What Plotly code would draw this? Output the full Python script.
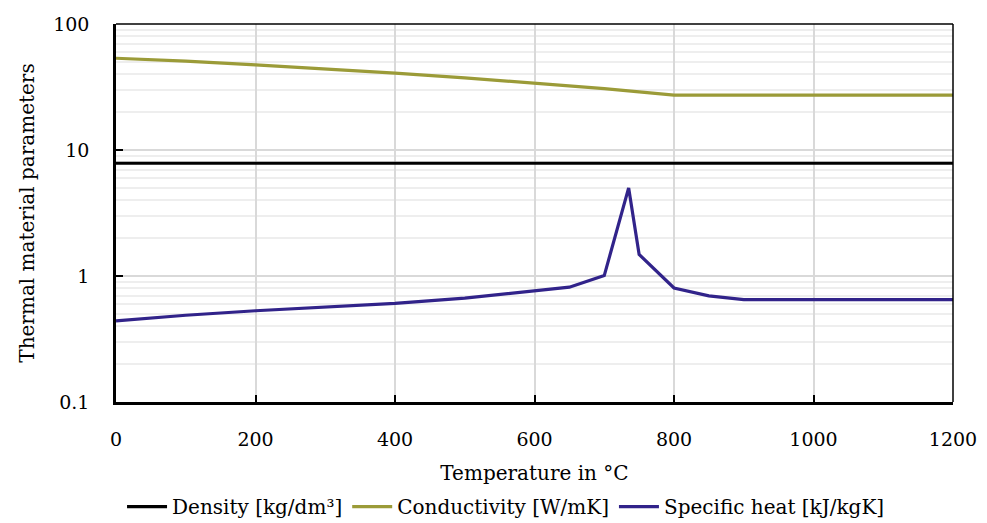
import plotly.graph_objects as go

temps_density = [0, 1200]
density = [7.85, 7.85]

temps_cond = [0, 100, 200, 300, 400, 500, 600, 700, 800, 900, 1000, 1100, 1200]
conductivity = [53.5, 50.7, 47.3, 44.0, 40.7, 37.4, 34.0, 30.7, 27.3, 27.3, 27.3, 27.3, 27.3]

temps_cp = [0, 100, 200, 300, 400, 500, 600, 650, 700, 735, 750, 800, 850, 900, 1000, 1100, 1200]
specific_heat = [0.44, 0.488, 0.530, 0.565, 0.606, 0.667, 0.760, 0.815, 1.008, 5.0, 1.483, 0.803, 0.695, 0.650, 0.650, 0.650, 0.650]

y_tickvals = [0.1, 1, 10, 100]
y_ticktext = ["0.1", "1", "10", "100"]

FONT = "DejaVu Serif, serif"
FS_TICK = 19
FS = 20

fig = go.Figure()
fig.add_trace(go.Scatter(x=temps_density, y=density, mode="lines", name="Density [kg/dm³]",
                         line=dict(color="#000000", width=3.2)))
fig.add_trace(go.Scatter(x=temps_cond, y=conductivity, mode="lines", name="Conductivity [W/mK]",
                         line=dict(color="#9b9b38", width=3.2)))
fig.add_trace(go.Scatter(x=temps_cp, y=specific_heat, mode="lines", name="Specific heat [kJ/kgK]",
                         line=dict(color="#31238a", width=3.2)))

# page body has an 8px default margin, so the figure is sized/placed to compensate
fig.update_layout(
    width=979, height=515,
    margin=dict(l=108, r=34, t=16, b=121, autoexpand=False),
    paper_bgcolor="white", plot_bgcolor="white",
    font=dict(family=FONT, size=FS, color="#000000"),
    showlegend=True,
    legend=dict(orientation="h", x=0.466, xanchor="center", y=-0.225, yanchor="top",
                font=dict(size=FS), tracegroupgap=0, itemwidth=40),
    xaxis=dict(range=[0, 1200], dtick=200, tick0=0, showgrid=True, gridcolor="#d9d9d9", gridwidth=1.5,
               showline=True, linecolor="black", linewidth=2.5, ticks="inside", ticklen=7,
               tickwidth=2, tickcolor="black", zeroline=False, automargin=False,
               ticklabelstandoff=18, tickfont=dict(size=FS_TICK),
               title=dict(text="Temperature in °C", standoff=18, font=dict(size=FS))),
    yaxis=dict(type="log", range=[-1, 2], showgrid=True, gridcolor="#d9d9d9", gridwidth=1.5,
               tickvals=y_tickvals, ticktext=y_ticktext,
               showline=True, linecolor="black", linewidth=2.5, ticks="inside", ticklen=7,
               tickwidth=2, tickcolor="black", zeroline=False, automargin=False,
               ticklabelstandoff=20, tickfont=dict(size=FS_TICK),
               minor=dict(showgrid=True, gridcolor="#eeeeee", gridwidth=1.5, dtick="D1", ticks=""),
               title=dict(text="Thermal material parameters", standoff=14, font=dict(size=FS))),
)
fig.add_shape(type="line", xref="paper", yref="paper", x0=0, x1=1, y0=1, y1=1,
              line=dict(color="black", width=1.5))
fig.add_shape(type="line", xref="paper", yref="paper", x0=1, x1=1, y0=0, y1=1,
              line=dict(color="black", width=1.5))

fig.write_html("out.html")
